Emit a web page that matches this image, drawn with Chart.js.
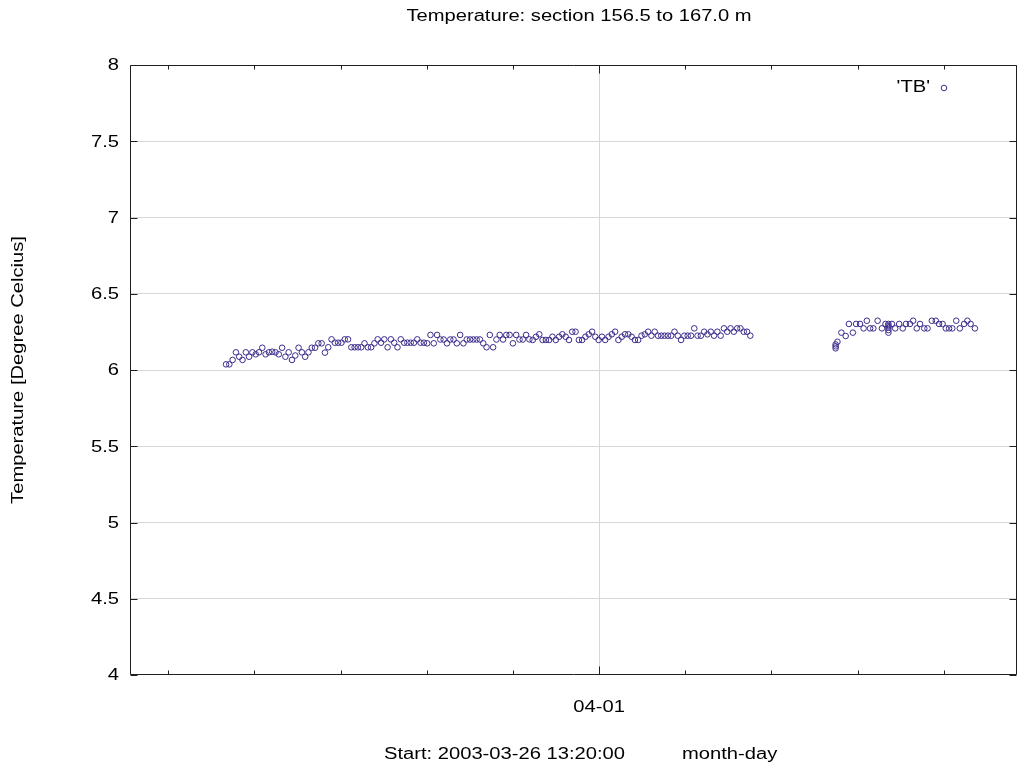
<!DOCTYPE html>
<html>
<head>
<meta charset="utf-8">
<title>Temperature: section 156.5 to 167.0 m</title>
<script src="https://cdn.jsdelivr.net/npm/chart.js@4.4.1/dist/chart.umd.min.js"></script>
<style>
  html, body { margin: 0; padding: 0; background: #fff; }
</style>
</head>
<body>
<canvas id="tempChart" width="1022" height="772"></canvas>
<script>
/* ---- texts ---- */
const chartTitle = 'Temperature: section 156.5 to 167.0 m';
const yAxisTitle = 'Temperature [Degree Celcius]';
const xStartText = 'Start: 2003-03-26 13:20:00';
const xUnitText = 'month-day';
const seriesName = "'TB'";

/* ---- axes (x in day-of-March, 32 = 04-01) ---- */
const xStart = 26.5556;   // 2003-03-26 13:20
const xEnd = 36.85;
const xTickDays = [27, 28, 29, 30, 31, 32, 33, 34, 35, 36];
const xTickLabels = ['', '', '', '', '', '04-01', '', '', '', ''];
const yTicks = [4, 4.5, 5, 5.5, 6, 6.5, 7, 7.5, 8];
const yTickLabels = ['4', '4.5', '5', '5.5', '6', '6.5', '7', '7.5', '8'];

/* ---- series: first run, regular sampling ---- */
const run1First = 27.67;  // 03-27 ~16:00
const run1Last = 33.755;  // 04-02 ~18:00
const run1Values = [
  6.037, 6.037, 6.066, 6.116, 6.087, 6.066, 6.116, 6.087, 6.116, 6.103,
  6.116, 6.146, 6.103, 6.116, 6.120, 6.116, 6.103, 6.146, 6.087, 6.116,
  6.066, 6.095, 6.146, 6.116, 6.087, 6.116, 6.146, 6.146, 6.175,
  6.175, 6.114, 6.149, 6.201, 6.179, 6.179, 6.179, 6.201, 6.201, 6.149,
  6.149, 6.149, 6.149, 6.175, 6.149, 6.149, 6.175, 6.201, 6.179, 6.201,
  6.149, 6.201, 6.179, 6.149, 6.201, 6.179, 6.179, 6.179, 6.179, 6.201,
  6.179, 6.179,
  6.175, 6.230, 6.175, 6.230, 6.200, 6.200, 6.175, 6.200, 6.200, 6.175,
  6.230, 6.175, 6.200, 6.200, 6.200, 6.200, 6.200, 6.175, 6.149, 6.230,
  6.149, 6.200, 6.230, 6.200, 6.230, 6.230, 6.175, 6.230, 6.200, 6.200,
  6.230, 6.201,
  6.197, 6.218, 6.234, 6.197, 6.197, 6.197, 6.218, 6.197, 6.218, 6.234,
  6.218, 6.197, 6.251, 6.251, 6.197, 6.197, 6.218, 6.234, 6.251, 6.218,
  6.197, 6.218, 6.197, 6.218, 6.234, 6.251, 6.197, 6.218, 6.234, 6.234,
  6.218, 6.197,
  6.197, 6.225, 6.234, 6.251, 6.225, 6.251, 6.225, 6.225, 6.225, 6.225,
  6.225, 6.251, 6.225, 6.197, 6.225, 6.225, 6.225, 6.273, 6.225, 6.225,
  6.251, 6.234, 6.251, 6.225, 6.251, 6.225, 6.273, 6.251, 6.273, 6.251,
  6.273, 6.273, 6.251, 6.251, 6.225
];

/* ---- series: second run, hours after its start ---- */
const run2First = 34.745; // 04-03 ~17:50
const run2Hours = [
  0, 0, 0, 0.5, 1.6, 2.8, 3.7, 4.8, 5.7, 6.8,
  7.8, 8.7, 9.6, 10.5, 11.7, 12.9, 13.9, 14.7, 14.7, 14.7,
  14.7, 14.7, 15.7, 16.6, 17.7, 18.7, 19.6, 20.7, 21.6, 22.6,
  23.5, 24.7, 25.6, 26.8, 27.9, 28.8, 29.8, 30.7, 31.6, 32.5,
  33.6, 34.6, 35.8, 36.7, 37.6, 38.8
];
const run2Values = [
  6.142, 6.155, 6.168, 6.185, 6.245, 6.223, 6.302, 6.245, 6.302, 6.302,
  6.273, 6.323, 6.273, 6.273, 6.323, 6.273, 6.302, 6.302, 6.290, 6.278,
  6.262, 6.245, 6.302, 6.273, 6.302, 6.273, 6.302, 6.302, 6.323, 6.273,
  6.302, 6.273, 6.273, 6.323, 6.323, 6.302, 6.302, 6.273, 6.273, 6.273,
  6.323, 6.273, 6.302, 6.323, 6.302, 6.273
];

/* ---- styles ---- */
const markColor = '#3a2c8c';
const gridColor = '#d7d7d7';
const frameColor = '#1e1e1e';
const FONT = '16px "Liberation Sans", Arial, sans-serif';
const STRETCH = 1.26; // the reference text is drawn wide

const points = [];
const step1 = (run1Last - run1First) / (run1Values.length - 1);
run1Values.forEach((v, i) => points.push({ x: run1First + i * step1, y: v }));
run2Values.forEach((v, i) => points.push({ x: run2First + run2Hours[i] / 24, y: v }));

function wideText(ctx, text, x, y, align, rotate) {
  ctx.save();
  ctx.translate(x, y);
  if (rotate) ctx.rotate(-Math.PI / 2);
  ctx.scale(STRETCH, 1);
  ctx.textAlign = align;
  ctx.fillText(text, 0, 0);
  ctx.restore();
}

const framePlugin = {
  id: 'frame',
  afterDraw(chart) {
    const { ctx, chartArea: a, scales } = chart;
    const xs = scales.x, ys = scales.y;
    const L = Math.round(a.left) + 0.5, R = Math.round(a.right) - 0.5;
    const T = Math.round(a.top) + 0.5, B = Math.round(a.bottom) - 0.5;

    ctx.save();
    ctx.strokeStyle = frameColor;
    ctx.lineWidth = 1;
    ctx.beginPath();
    ctx.rect(L, T, R - L, B - T);
    // day ticks, pointing inward
    xTickDays.forEach((d, i) => {
      const px = Math.round(xs.getPixelForValue(d)) + 0.5;
      const len = xTickLabels[i] ? 8 : 4;
      ctx.moveTo(px, B); ctx.lineTo(px, B - len);
      ctx.moveTo(px, T); ctx.lineTo(px, T + len);
    });
    yTicks.forEach(v => {
      const py = Math.round(ys.getPixelForValue(v)) + 0.5;
      ctx.moveTo(L, py); ctx.lineTo(L + 7, py);
      ctx.moveTo(R, py); ctx.lineTo(R - 7, py);
    });
    ctx.stroke();

    // texts
    ctx.fillStyle = '#000';
    ctx.font = FONT;
    ctx.textBaseline = 'alphabetic';
    wideText(ctx, chartTitle, 579, 21, 'center');

    ctx.textBaseline = 'middle';
    yTicks.forEach((v, i) => {
      wideText(ctx, yTickLabels[i], 119, ys.getPixelForValue(v) + 1, 'right');
    });
    xTickDays.forEach((d, i) => {
      if (xTickLabels[i]) wideText(ctx, xTickLabels[i], xs.getPixelForValue(d), 708, 'center');
    });
    wideText(ctx, xStartText, 384, 755, 'left');
    wideText(ctx, xUnitText, 682, 755, 'left');
    wideText(ctx, yAxisTitle, 19, 370, 'center', true);

    // key
    wideText(ctx, seriesName, 930, 88, 'right');
    ctx.beginPath();
    ctx.strokeStyle = markColor;
    ctx.arc(944, 88, 2.8, 0, Math.PI * 2);
    ctx.stroke();
    ctx.restore();
  }
};

new Chart(document.getElementById('tempChart'), {
  type: 'scatter',
  data: {
    datasets: [{
      label: seriesName,
      data: points,
      showLine: false,
      pointStyle: 'circle',
      pointRadius: 2.8,
      pointBorderWidth: 1,
      pointBorderColor: markColor,
      pointBackgroundColor: 'rgba(0,0,0,0)'
    }]
  },
  options: {
    responsive: false,
    animation: false,
    devicePixelRatio: 1,
    layout: { padding: { left: 130, right: 2, top: 65, bottom: 97 } },
    plugins: {
      legend: { display: false },
      title: { display: false },
      tooltip: { enabled: false }
    },
    scales: {
      x: {
        type: 'linear',
        min: xStart,
        max: xEnd,
        afterBuildTicks: s => { s.ticks = xTickDays.map(v => ({ value: v })); },
        afterFit: s => { s.height = 0; },
        ticks: { display: false },
        border: { display: false },
        grid: {
          drawTicks: false,
          color: c => (c.tick && xTickLabels[xTickDays.indexOf(c.tick.value)]) ? gridColor : 'rgba(0,0,0,0)'
        }
      },
      y: {
        min: 4,
        max: 8,
        afterBuildTicks: s => { s.ticks = yTicks.map(v => ({ value: v })); },
        afterFit: s => { s.width = 0; },
        ticks: { display: false },
        border: { display: false },
        grid: {
          drawTicks: false,
          color: c => (c.tick && c.tick.value > 4 && c.tick.value < 8) ? gridColor : 'rgba(0,0,0,0)'
        }
      }
    }
  },
  plugins: [framePlugin]
});
</script>
</body>
</html>
